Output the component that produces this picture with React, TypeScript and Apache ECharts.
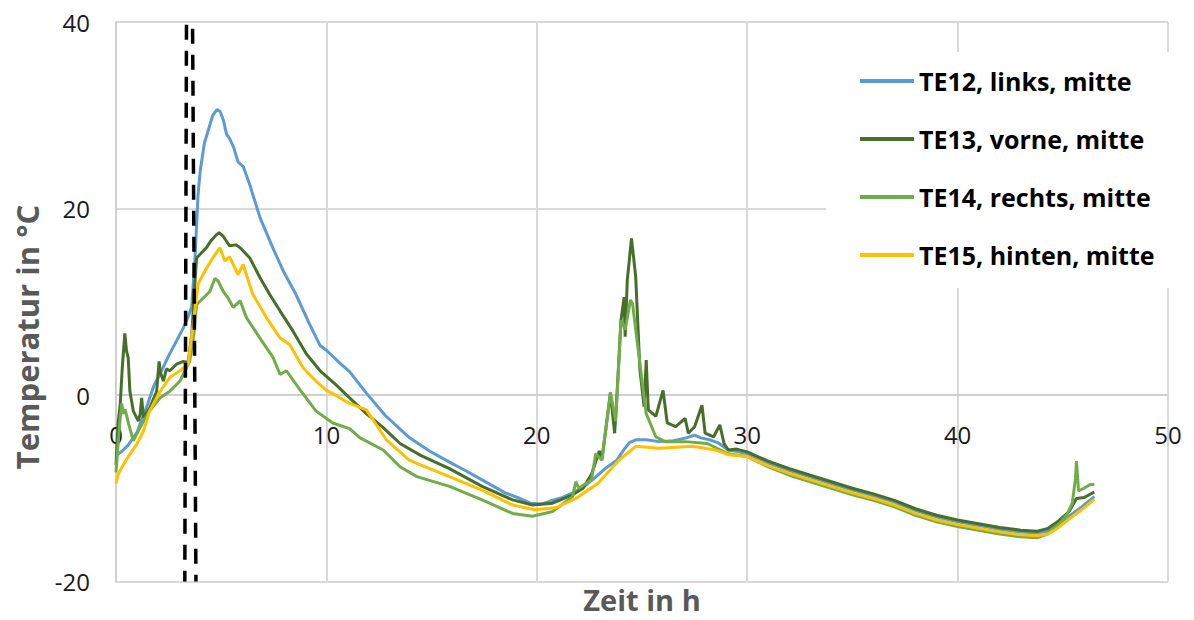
import React, { useEffect, useRef } from "react";
import * as echarts from "echarts";

const seriesNames = ["TE12, links, mitte", "TE13, vorne, mitte", "TE14, rechts, mitte", "TE15, hinten, mitte"];
const seriesColors = ["#5b9bd5", "#466f2a", "#70ad47", "#ffc000"];

const xTicks = { min: 0, max: 50, interval: 10 };
const yTicks = { min: -20, max: 40, interval: 20 };

const te12: number[][] = [
  [0, -6.5], [0.3, -6.0], [0.6, -5.3], [1.0, -4.0], [1.3, -2.2], [1.5, -1.0], [1.8, 1.0], [2.1, 2.3],
  [2.5, 4.2], [2.9, 5.9], [3.2, 7.2], [3.45, 8.5], [3.6, 9.5], [3.75, 14.5], [3.9, 21.5], [4.0, 24],
  [4.2, 27], [4.4, 28.5], [4.6, 30], [4.8, 30.6], [4.95, 30.4], [5.1, 29.5], [5.25, 28], [5.4, 27.5],
  [5.6, 26.5], [5.8, 25], [6.05, 24.5], [6.35, 22.6], [6.85, 19], [7.45, 15.8], [7.95, 13.3], [8.55, 10.8],
  [9.2, 7.6], [9.7, 5.3], [10.0, 4.8], [10.6, 3.5], [11.1, 2.5], [11.9, 0.2], [12.8, -2.2], [13.9, -4.5],
  [14.9, -6.0], [15.85, -7.2], [16.6, -8.1], [17.4, -9.1], [18.5, -10.5], [19.2, -11.1], [19.7, -11.6],
  [20.2, -11.7], [20.6, -11.4], [21.2, -11.0], [21.7, -10.5], [22.2, -9.9], [22.7, -9.0], [23.3, -7.8],
  [23.8, -7.0], [24.1, -6.0], [24.4, -5.1], [24.7, -4.8], [25.2, -4.8], [25.8, -5.0], [26.5, -4.9],
  [27.1, -4.6], [27.5, -4.3], [27.8, -4.6], [28.2, -4.8], [28.6, -5.1], [29.1, -5.9], [29.6, -6.1],
  [30, -6.3], [31, -7.3], [32, -8.1], [33, -8.8], [34, -9.5], [35, -10.2], [36, -10.8], [37, -11.5],
  [38, -12.4], [39, -13.1], [40, -13.6], [41, -14.0], [42, -14.4], [43, -14.7], [43.8, -14.8],
  [44.3, -14.6], [44.8, -13.9], [45.3, -13.0], [45.9, -12.0], [46.5, -10.9]
];

const te13: number[][] = [
  [0, -7.5], [0.1, -3], [0.2, -1], [0.3, 3], [0.42, 6.6], [0.5, 4.7], [0.58, 4.0], [0.66, 0.4],
  [0.82, -1.7], [1.06, -2.8], [1.15, -2.0], [1.22, -0.3], [1.3, -2.4], [1.6, -1.4], [1.93, 0.4],
  [2.05, 3.6], [2.1, 2.5], [2.25, 1.5], [2.4, 2.8], [2.56, 2.6], [2.88, 3.3], [3.2, 3.6], [3.43, 3.5],
  [3.6, 6.5], [3.75, 12], [3.83, 14.7], [4.0, 15.1], [4.3, 15.8], [4.5, 16.5], [4.78, 17.2], [4.9, 17.4],
  [5.1, 17.0], [5.4, 16.0], [5.7, 16.1], [5.9, 15.8], [6.36, 14.7], [6.84, 12.6], [7.3, 10.8], [7.8, 9.0],
  [8.4, 6.9], [9.05, 4.4], [9.7, 2.6], [10.0, 2.0], [10.5, 1.0], [11.1, -0.3], [11.9, -2.0], [12.7, -3.5],
  [13.5, -5.2], [14.5, -6.5], [15.85, -7.9], [17.4, -9.8], [18.85, -11.25], [19.8, -11.8], [20.75, -11.6],
  [21.7, -10.7], [22.2, -10], [22.6, -8.5], [22.97, -6.0], [23.1, -6.8], [23.5, 0.2], [23.7, -4.1],
  [23.85, 1.6], [24.0, 8.0], [24.15, 10.5], [24.2, 6.25], [24.3, 12.3], [24.5, 16.8], [24.7, 12.7],
  [24.9, 2.7], [25.1, -1.25], [25.2, 3.75], [25.3, -1.6], [25.66, -2.3], [26.0, 0.5], [26.2, -3.0],
  [26.6, -3.4], [27.05, -2.5], [27.2, -4.1], [27.5, -3.4], [27.85, -1.1], [28.0, -4.1], [28.4, -4.5],
  [28.7, -3.2], [28.9, -5.2], [29.1, -5.9], [29.5, -5.8], [30, -6.1], [31, -7.1], [32, -7.9], [33, -8.6],
  [34, -9.3], [35, -10.0], [36, -10.6], [37, -11.3], [38, -12.2], [39, -12.9], [40, -13.4], [41, -13.8],
  [42, -14.2], [43, -14.5], [43.8, -14.6], [44.3, -14.3], [44.8, -13.5], [45.3, -12.5], [45.65, -11.1],
  [46.0, -11.0], [46.5, -10.4]
];

const te14: number[][] = [
  [0, -8.3], [0.1, -5.3], [0.2, -2.5], [0.27, -0.9], [0.35, -2.0], [0.43, -1.5], [0.6, -3.1], [0.82, -4.9],
  [1.14, -3.5], [1.6, -1.7], [2.1, -0.3], [2.56, 0.4], [3.04, 1.5], [3.5, 3.6], [3.7, 6.5], [3.83, 9.7],
  [4.15, 10.4], [4.46, 11.1], [4.7, 12.5], [4.86, 12.2], [5.1, 11.1], [5.3, 10.5], [5.57, 9.4], [5.9, 10.1],
  [6.2, 8.3], [6.84, 6.1], [7.47, 4.0], [7.8, 2.2], [8.1, 2.6], [8.73, 0.6], [9.5, -1.7], [10.3, -3.0],
  [11.1, -3.6], [11.6, -4.6], [12.7, -5.9], [13.5, -7.7], [14.3, -8.75], [15.85, -9.8], [17.4, -11.25],
  [18.85, -12.7], [19.8, -13.0], [20.75, -12.5], [21.7, -10.9], [21.85, -9.3], [22.0, -10.0], [22.6, -9.1],
  [22.8, -6.3], [23.1, -7.0], [23.5, 0.3], [23.75, -2.8], [24.0, 8.0], [24.2, 7.0], [24.45, 10.2],
  [24.55, 9.8], [24.8, 5.2], [25.0, 1.6], [25.2, -2.0], [25.66, -4.5], [26.1, -5.0], [27.05, -5.0],
  [28.1, -5.2], [29.1, -6.3], [30, -6.6], [31, -7.7], [32, -8.6], [33, -9.3], [34, -10.0], [35, -10.7],
  [36, -11.3], [37, -12.0], [38, -12.9], [39, -13.6], [40, -14.1], [41, -14.5], [42, -14.9], [43, -15.2],
  [43.8, -15.3], [44.3, -14.9], [44.8, -13.9], [45.2, -12.8], [45.45, -11.6], [45.6, -9.0], [45.65, -7.1],
  [45.75, -10.3], [46.0, -10.0], [46.3, -9.6], [46.5, -9.6]
];

const te15: number[][] = [
  [0, -9.5], [0.1, -8.5], [0.5, -6.9], [0.98, -5.3], [1.3, -3.9], [1.6, -1.7], [2.1, 0.4], [2.56, 1.9],
  [3.04, 2.6], [3.43, 3.3], [3.67, 7.6], [3.9, 11.9], [4.3, 13.6], [4.6, 14.7], [4.94, 15.8], [5.17, 14.4],
  [5.4, 14.8], [5.57, 14.0], [5.8, 12.9], [6.04, 14.0], [6.5, 10.8], [7.15, 8.3], [7.8, 6.1], [8.26, 5.4],
  [8.9, 2.9], [9.5, 1.5], [10.0, 0.5], [10.5, -0.1], [11.0, -0.8], [11.9, -1.6], [12.85, -4.8],
  [13.95, -7.0], [15.85, -8.75], [17.4, -10.2], [18.85, -11.8], [19.9, -12.3], [20.9, -12.1],
  [21.85, -11.1], [22.9, -9.5], [23.9, -7.0], [24.7, -5.5], [25.8, -5.7], [27.4, -5.5], [28.5, -5.9],
  [29.1, -6.4], [30, -6.6], [31, -7.6], [32, -8.4], [33, -9.1], [34, -9.8], [35, -10.5], [36, -11.1],
  [37, -11.8], [38, -12.7], [39, -13.4], [40, -13.9], [41, -14.3], [42, -14.7], [43, -15.0], [43.8, -15.1],
  [44.3, -14.9], [44.8, -14.2], [45.3, -13.3], [45.9, -12.3], [46.5, -11.2]
];

const marker1: number[][] = [[3.35, 39.7], [3.27, -20]];
const marker2: number[][] = [[3.64, 39.5], [3.8, -20]];

const FONT = "'Open Sans', sans-serif";

export default function App() {
  const ref = useRef<HTMLDivElement>(null);
  useEffect(() => {
    if (!ref.current) return;
    const chart = echarts.init(ref.current, undefined, { renderer: "svg" });
    const dataSets = [te12, te13, te14, te15];
    const gridLine = { show: true, lineStyle: { color: "#d9d9d9", width: 2 } };
    const plotTop = 22;
    const plotBottom = 581.5;
    // x axis sits at the zero line of the y axis (Excel style)
    const zeroFrac = (yTicks.max - 0) / (yTicks.max - yTicks.min);
    const zeroY = plotTop + zeroFrac * (plotBottom - plotTop);
    chart.setOption({
      animation: false,
      backgroundColor: "#fff",
      textStyle: { fontFamily: FONT },
      grid: { left: 116, right: 26, top: plotTop, bottom: 620 - plotBottom, containLabel: false },
      xAxis: {
        type: "value",
        min: xTicks.min,
        max: xTicks.max,
        interval: xTicks.interval,
        position: "bottom",
        offset: -(plotBottom - zeroY),
        axisLine: { show: true, onZero: false, lineStyle: { color: "#d0d0d0", width: 2 } },
        axisTick: { show: false },
        axisLabel: { color: "#1a1a1a", fontSize: 24, margin: 27, fontFamily: FONT },
        splitLine: gridLine,
      },
      yAxis: {
        type: "value",
        min: yTicks.min,
        max: yTicks.max,
        interval: yTicks.interval,
        axisLine: { show: true, onZero: false, lineStyle: { color: "#d0d0d0", width: 2 } },
        axisTick: { show: false },
        axisLabel: { color: "#1a1a1a", fontSize: 24, margin: 26, fontFamily: FONT },
        splitLine: gridLine,
      },
      legend: {
        data: seriesNames,
        orient: "vertical",
        left: 855,
        top: 61,
        icon: "rect",
        itemWidth: 54,
        itemHeight: 4,
        itemGap: 28,
        z: 10,
        textStyle: { fontSize: 25, fontWeight: "bold", color: "#000", fontFamily: FONT, lineHeight: 30 },
      },
      graphic: [
        { type: "rect", z: 5, shape: { x: 826, y: 52, width: 350, height: 236 }, style: { fill: "#fff" } },
        {
          type: "text", z: 5, x: 27, y: 337, rotation: Math.PI / 2,
          style: { text: "Temperatur in °C", fill: "#595959", font: `bold 31px ${FONT}`, textAlign: "center", textVerticalAlign: "middle" },
        },
        {
          type: "text", z: 5, x: 642, y: 599,
          style: { text: "Zeit in h", fill: "#595959", font: `bold 29px ${FONT}`, textAlign: "center", textVerticalAlign: "middle" },
        },
      ],
      series: [
        ...dataSets.map((d, i) => ({
          name: seriesNames[i],
          type: "line",
          data: d,
          symbol: "none",
          color: seriesColors[i],
          lineStyle: { color: seriesColors[i], width: 3 },
          z: 2,
        })),
        {
          name: "m1", type: "line", data: marker1, symbol: "none", z: 3,
          lineStyle: { color: "#000", width: 3.5, type: [15, 11] },
        },
        {
          name: "m2", type: "line", data: marker2, symbol: "none", z: 3,
          lineStyle: { color: "#000", width: 3.5, type: [15, 11], dashOffset: -2 },
        },
      ],
    });
    return () => chart.dispose();
  }, []);
  return <div ref={ref} style={{ width: 1194, height: 620, position: "absolute", left: 0, top: 0 }} />;
}
